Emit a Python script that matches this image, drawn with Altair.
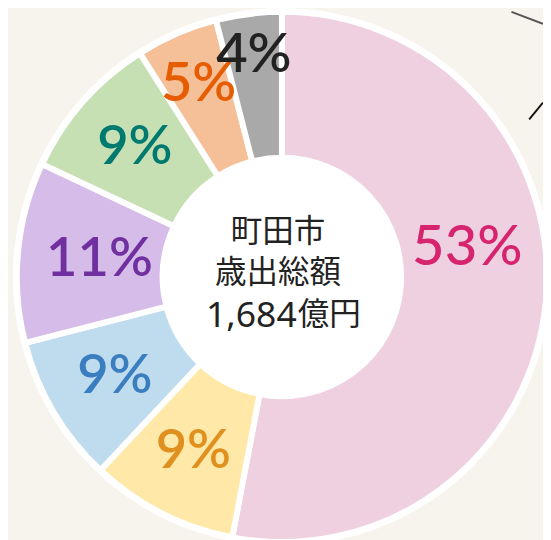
import altair as alt
import pandas as pd

# ---- data ----
categories = ["区分A", "区分B", "区分C", "区分D", "区分E", "区分F", "区分G"]
values = [53, 9, 9, 11, 9, 5, 4]
labels = ["53%", "9%", "9%", "11%", "9%", "5%", "4%"]
center_title = ["町田市", "歳出総額"]
center_amount = "1,684"
center_unit = "億円"

# ---- styles ----
fill_colors = ["#efd0e1", "#ffe8a8", "#bfdcee", "#d6bce9", "#c6e0b4", "#f5bf98", "#a9a9a9"]
label_colors = ["#d6246e", "#e0901e", "#3a7ebf", "#7030a0", "#007a6e", "#e65c00", "#222222"]
label_radius = [196, 198, 197, 186, 199, 213, 227]

W, H = 543, 532
CX, CY = 278, 269
TOTAL = sum(values)

df = pd.DataFrame({
    "cat": categories,
    "value": values,
    "label": labels,
    "order": list(range(len(categories))),
    "fill": fill_colors,
    "lcol": label_colors,
    "lr": label_radius,
})

disk = alt.Chart(pd.DataFrame({"k": [0]})).mark_arc(
    outerRadius=273, innerRadius=0, theta=0, theta2=6.2832, color="white"
).encode(x=alt.value(CX), y=alt.value(CY))

arcs = alt.Chart(df).mark_arc(outerRadius=269, innerRadius=121, stroke="white", strokeWidth=6).encode(
    theta=alt.Theta("value:Q", stack=True, scale=alt.Scale(domain=[0, TOTAL])),
    order=alt.Order("order:Q"),
    color=alt.Color("fill:N", scale=None),
    x=alt.value(CX),
    y=alt.value(CY),
)

lab_base = alt.Chart(df).transform_window(
    cum="sum(value)", sort=[alt.SortField("order")], frame=[None, 0]
).transform_calculate(
    mid="datum.cum - datum.value / 2"
)


def text_layer(expr, **kw):
    return lab_base.transform_calculate(lbl=expr).mark_text(
        font="Lato", baseline="middle", align="center", **kw
    ).encode(
        theta=alt.Theta("mid:Q", stack=False, scale=alt.Scale(domain=[0, TOTAL])),
        radius=alt.Radius("lr:Q", scale=None),
        text="lbl:N",
        color=alt.Color("lcol:N", scale=None),
        x=alt.value(CX),
        y=alt.value(CY),
    )


txt_main = text_layer("datum.order == 0 ? '' : datum.label", fontSize=55, fontWeight=600)
txt_big = text_layer("datum.order == 0 ? datum.label : ''", fontSize=57, fontWeight=500, dx=-7, dy=-48)

center = alt.Chart(pd.DataFrame({"t": [center_title]})).mark_text(
    font="Noto Sans CJK JP", fontSize=32, lineHeight=41, baseline="middle", align="center", color="#222222"
).encode(text="t", x=alt.value(274), y=alt.value(224))

amount = alt.Chart(pd.DataFrame({"t": [center_amount]})).mark_text(
    font="Noto Sans", fontSize=36, baseline="alphabetic", align="right", color="#222222"
).encode(text="t", x=alt.value(293), y=alt.value(320))

unit = alt.Chart(pd.DataFrame({"t": [center_unit]})).mark_text(
    font="Noto Sans CJK JP", fontSize=32, baseline="alphabetic", align="left", color="#222222"
).encode(text="t", x=alt.value(294), y=alt.value(318))

deco1 = alt.Chart(pd.DataFrame({"k": [0]})).mark_rule(color="#111111", strokeWidth=2).encode(
    x=alt.value(529), x2=alt.value(543), y=alt.value(109), y2=alt.value(92)
)
deco2 = alt.Chart(pd.DataFrame({"k": [0]})).mark_rule(color="#555555", strokeWidth=2).encode(
    x=alt.value(511), x2=alt.value(543), y=alt.value(0), y2=alt.value(12)
)

chart = alt.layer(disk, arcs, txt_main, txt_big, center, amount, unit, deco1, deco2).properties(
    width=W, height=H, background="#f7f4ed", padding=0,
    autosize=alt.AutoSizeParams(type="none"),
).configure_view(stroke=None)

chart.save("out.html", embed_options={"renderer": "svg", "actions": False})
